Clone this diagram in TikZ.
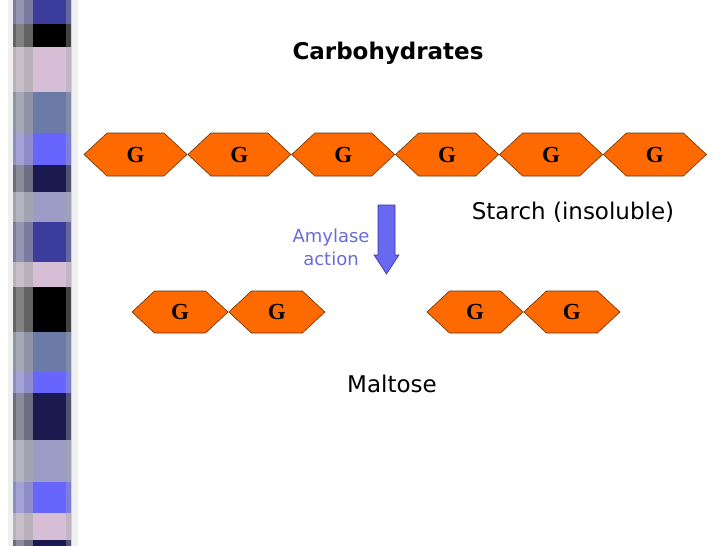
\documentclass[tikz,border=0pt]{standalone}
\usepackage{fontspec}
\setmainfont{DejaVu Sans}
\newfontfamily\glufont{Liberation Serif}
\usetikzlibrary{positioning,shapes.symbols}

% colours
\definecolor{gluorange}{HTML}{FF6A00}
\definecolor{gluedge}{HTML}{6B2E00}
\definecolor{enzblue}{HTML}{6B6BD6}
\definecolor{arrowfill}{HTML}{6868F0}
\definecolor{arrowedge}{HTML}{3434A8}
\definecolor{stripdk}{HTML}{3C3C9C}
\definecolor{strippk}{HTML}{D6BFD6}
\definecolor{stripsl}{HTML}{6B7AA6}
\definecolor{stripbr}{HTML}{6666FF}
\definecolor{stripnv}{HTML}{1A1A50}
\definecolor{striplv}{HTML}{9C9CC6}

\tikzset{
  glu/.style={shape=signal, signal to=west and east, signal pointer angle=86,
    fill=gluorange, draw=gluedge, line width=0.6pt, inner sep=0pt,
    minimum width=103pt, minimum height=43pt,
    font=\glufont\bfseries\fontsize{23}{23}\selectfont},
  glusmall/.style={glu, minimum width=96pt, minimum height=42pt},
  label/.style={font=\fontsize{23}{25}\selectfont, inner sep=0pt},
}

\begin{document}
\begin{tikzpicture}[x=1pt, y=-1pt]
\useasboundingbox (0,0) rectangle (728,546);

% ---- decorative strip ----
\fill[gray!12] (8,0) rectangle (78,546);
\foreach \ya/\yb/\col in {0/24/stripdk, 24/47/black, 47/92/strippk, 92/133/stripsl,
    133/165/stripbr, 165/192/stripnv, 192/222/striplv, 222/262/stripdk,
    262/287/strippk, 287/332/black, 332/372/stripsl, 372/393/stripbr,
    393/440/stripnv, 440/482/striplv, 482/513/stripbr, 513/540/strippk,
    540/546/stripnv}
  \fill[\col] (13,\ya) rectangle (71,\yb);
\fill[gray!70, opacity=0.6] (13,0) rectangle (33,546);
\fill[white, opacity=0.2] (16,0) rectangle (24,546);
\fill[gray!70, opacity=0.4] (66,0) rectangle (72,546);

% ---- title ----
\node[font=\bfseries\fontsize{23}{25}\selectfont] (title) at (388,53) {Carbohydrates};

% ---- starch chain ----
\node[glu] (s1) at (135.5,154.5) {G};
\node[glu, right=0pt of s1] (s2) {G};
\node[glu, right=0pt of s2] (s3) {G};
\node[glu, right=0pt of s3] (s4) {G};
\node[glu, right=0pt of s4] (s5) {G};
\node[glu, right=0pt of s5] (s6) {G};
\node[label] (starch) at (573,212) {Starch (insoluble)};

% ---- amylase ----
\node[label, font=\fontsize{18}{23}\selectfont, text=enzblue, align=center]
  (amylase) at (331,247) {Amylase\\action};
\filldraw[fill=arrowfill, draw=arrowedge, line width=0.6pt]
  (378,205) -- (395,205) -- (395,255) -- (399,255) -- (386.5,274)
  -- (374,255) -- (378,255) -- cycle;

% ---- maltose ----
\node[glusmall] (m1) at (180,312) {G};
\node[glusmall, right=0pt of m1] (m2) {G};
\node[glusmall] (m3) at (475,312) {G};
\node[glusmall, right=0pt of m3] (m4) {G};
\node[label] (maltose) at (392,384) {Maltose};

\end{tikzpicture}
\end{document}
